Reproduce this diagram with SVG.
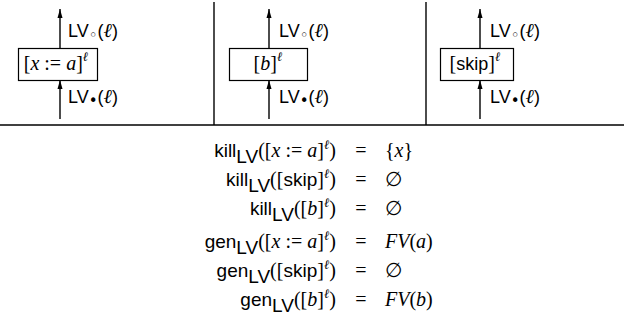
<svg xmlns="http://www.w3.org/2000/svg" width="624" height="320" viewBox="0 0 624 320">
<defs>
<marker id="ah" viewBox="0 0 10 10" refX="10" refY="5" markerWidth="9" markerHeight="9" markerUnits="userSpaceOnUse" orient="auto">
<path d="M0,2.2 L10,5 L0,7.8 z" fill="#000"/>
</marker>
<style>
.sans{font-family:"Liberation Sans",Arial,sans-serif;font-size:18px;fill:#000}
.eq{font-size:19px}
.ser{font-family:"Liberation Serif","Times New Roman",serif;font-size:20px;fill:#000}
.it{font-style:italic}
.sup{font-family:"Liberation Serif","Times New Roman",serif;font-style:italic;font-size:13px}
.wc{font-family:"DejaVu Sans",sans-serif;font-size:15px}
.bc{font-family:"DejaVu Sans",sans-serif;font-size:15px}
.box{fill:#fff;stroke:#000;stroke-width:1.2}
.ln{stroke:#000;stroke-width:1.4;fill:none}
.arr{stroke:#000;stroke-width:1.4;fill:none;marker-end:url(#ah)}
</style>
</defs>
<g id="frame">
<line class="ln" x1="214" y1="2" x2="214" y2="125"/>
<line class="ln" x1="426" y1="2" x2="426" y2="125"/>
<line class="ln" x1="0" y1="125" x2="624" y2="125"/>
</g>
<g id="connectors">
<line class="arr" x1="60" y1="48" x2="60" y2="9"/>
<line class="arr" x1="60" y1="119" x2="60" y2="80"/>
<line class="arr" x1="269" y1="48" x2="269" y2="9"/>
<line class="arr" x1="269" y1="119" x2="269" y2="80"/>
<line class="arr" x1="480" y1="48" x2="480" y2="9"/>
<line class="arr" x1="480" y1="119" x2="480" y2="80"/>
</g>
<g id="node-assign">
<rect class="box" x="18.5" y="48.5" width="79" height="32"/>
<text class="ser" x="56" y="70" text-anchor="middle">[<tspan class="it">x</tspan> := <tspan class="it">a</tspan>]<tspan class="sup" dy="-9">ℓ</tspan></text>
</g>
<g id="node-test">
<rect class="box" x="229.5" y="48.5" width="78" height="32"/>
<text class="ser" x="268" y="70" text-anchor="middle">[<tspan class="it">b</tspan>]<tspan class="sup" dy="-9">ℓ</tspan></text>
</g>
<g id="node-skip">
<rect class="box" x="440.5" y="48.5" width="73" height="32"/>
<text class="ser" x="475" y="70" text-anchor="middle">[<tspan class="sans">skip</tspan>]<tspan class="sup" dy="-9">ℓ</tspan></text>
</g>
<g id="labels">
<text class="sans" x="68" y="37">LV<tspan class="wc" dy="3">◦</tspan><tspan dy="-3">(</tspan><tspan class="ser it" font-size="18">ℓ</tspan>)</text>
<text class="sans" x="68" y="103">LV<tspan class="bc" dy="3">•</tspan><tspan dy="-3">(</tspan><tspan class="ser it" font-size="18">ℓ</tspan>)</text>
<text class="sans" x="279" y="37">LV<tspan class="wc" dy="3">◦</tspan><tspan dy="-3">(</tspan><tspan class="ser it" font-size="18">ℓ</tspan>)</text>
<text class="sans" x="279" y="103">LV<tspan class="bc" dy="3">•</tspan><tspan dy="-3">(</tspan><tspan class="ser it" font-size="18">ℓ</tspan>)</text>
<text class="sans" x="490" y="37">LV<tspan class="wc" dy="3">◦</tspan><tspan dy="-3">(</tspan><tspan class="ser it" font-size="18">ℓ</tspan>)</text>
<text class="sans" x="490" y="103">LV<tspan class="bc" dy="3">•</tspan><tspan dy="-3">(</tspan><tspan class="ser it" font-size="18">ℓ</tspan>)</text>
</g>
<g id="equations">
<text class="sans eq" x="336" y="157" text-anchor="end">kill<tspan dy="6">LV</tspan><tspan class="ser" dy="-6">([<tspan class="it">x</tspan> := <tspan class="it">a</tspan>]<tspan class="sup" dy="-8">ℓ</tspan><tspan dy="8">)</tspan></tspan></text>
<text class="sans eq" x="336" y="186" text-anchor="end">kill<tspan dy="6">LV</tspan><tspan class="ser" dy="-6">([<tspan class="sans eq">skip</tspan>]<tspan class="sup" dy="-8">ℓ</tspan><tspan dy="8">)</tspan></tspan></text>
<text class="sans eq" x="336" y="215" text-anchor="end">kill<tspan dy="6">LV</tspan><tspan class="ser" dy="-6">([<tspan class="it">b</tspan>]<tspan class="sup" dy="-8">ℓ</tspan><tspan dy="8">)</tspan></tspan></text>
<text class="sans eq" x="336" y="248" text-anchor="end">gen<tspan dy="6">LV</tspan><tspan class="ser" dy="-6">([<tspan class="it">x</tspan> := <tspan class="it">a</tspan>]<tspan class="sup" dy="-8">ℓ</tspan><tspan dy="8">)</tspan></tspan></text>
<text class="sans eq" x="336" y="277" text-anchor="end">gen<tspan dy="6">LV</tspan><tspan class="ser" dy="-6">([<tspan class="sans eq">skip</tspan>]<tspan class="sup" dy="-8">ℓ</tspan><tspan dy="8">)</tspan></tspan></text>
<text class="sans eq" x="336" y="306" text-anchor="end">gen<tspan dy="6">LV</tspan><tspan class="ser" dy="-6">([<tspan class="it">b</tspan>]<tspan class="sup" dy="-8">ℓ</tspan><tspan dy="8">)</tspan></tspan></text>
<text class="ser" x="361" y="157" text-anchor="middle">=</text>
<text class="ser" x="361" y="186" text-anchor="middle">=</text>
<text class="ser" x="361" y="215" text-anchor="middle">=</text>
<text class="ser" x="361" y="248" text-anchor="middle">=</text>
<text class="ser" x="361" y="277" text-anchor="middle">=</text>
<text class="ser" x="361" y="306" text-anchor="middle">=</text>
<text class="ser" x="385" y="157">{<tspan class="it">x</tspan>}</text>
<text class="ser" x="385" y="186">∅</text>
<text class="ser" x="385" y="215">∅</text>
<text class="ser" x="385" y="248"><tspan class="it">FV</tspan>(<tspan class="it">a</tspan>)</text>
<text class="ser" x="385" y="277">∅</text>
<text class="ser" x="385" y="306"><tspan class="it">FV</tspan>(<tspan class="it">b</tspan>)</text>
</g>
</svg>
